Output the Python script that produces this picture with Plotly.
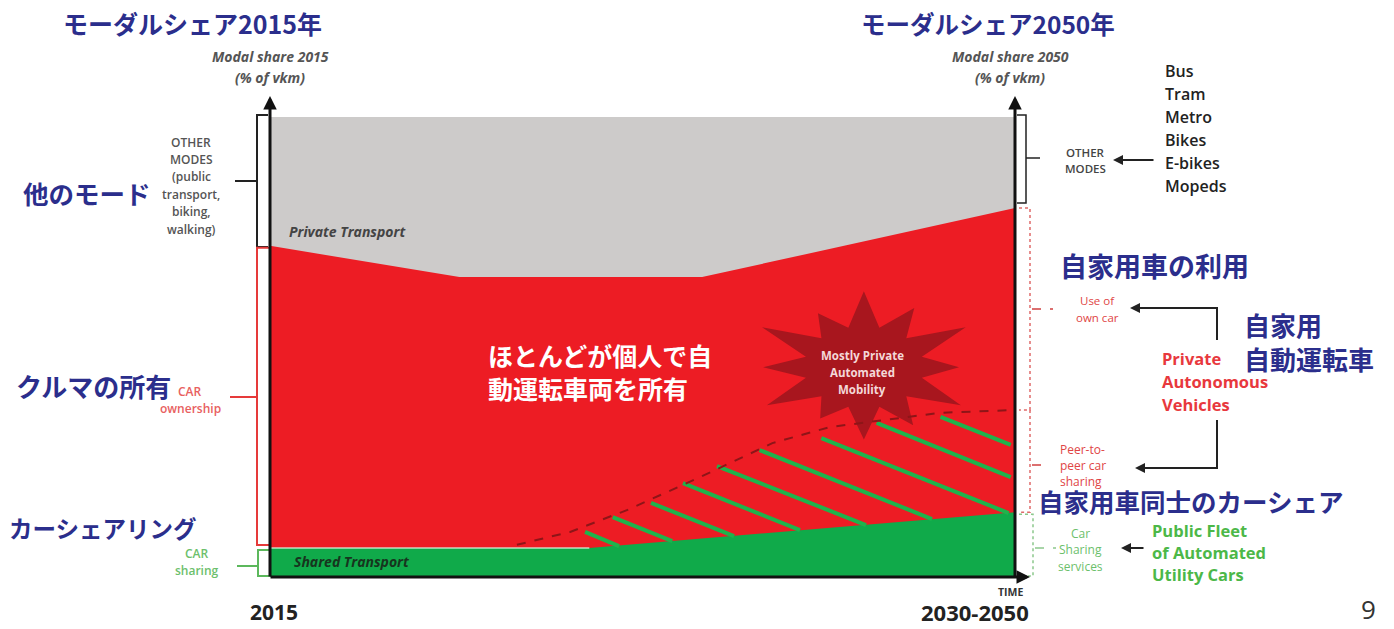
import math
import plotly.graph_objects as go

# ---------------- data (time in years, share in % of vkm) ----------------
years_bounds = [2015, 2050]
other_top = [100, 100]

years_private = [2015, 2023.9, 2035.3, 2050]
private_top = [72.0, 65.2, 65.2, 80.2]

years_shared = [2015, 2030.0, 2050]
shared_top = [6.3, 6.3, 14.1]

years_p2p = [2026.6, 2029.1, 2031.8, 2035.2, 2038.6, 2041.3, 2046.5, 2050]
p2p_top = [7.0, 9.8, 14.6, 21.7, 29.1, 32.6, 35.7, 36.3]

hatch_x0 = [2029.8, 2031.1, 2032.9, 2034.4, 2036.0, 2038.0, 2040.9, 2043.5, 2046.5]
hatch_y0 = [9.8, 13.0, 16.1, 20.4, 24.1, 27.6, 30.2, 33.5, 34.8]
hatch_x1 = [2031.4, 2033.9, 2036.8, 2039.9, 2043.0, 2046.1, 2049.7, 2049.8, 2049.8]
hatch_y1 = [6.7, 7.8, 8.9, 10.2, 11.3, 12.6, 13.9, 21.7, 28.7]

star_center = (2042.9, 45.6)
star_radius_mult = [1.0, 0.82, 1.05, 0.9, 1.0, 0.78, 0.95, 0.88, 1.0, 0.85, 1.05, 0.9]

other_modes_list = ["Bus", "Tram", "Metro", "Bikes", "E-bikes", "Mopeds"]

# ---------------- pixel <-> data helpers (layout only) ----------------
W, H = 1394, 629
PXL, PXR = 270, 1015      # x pixels of 2015 and 2050
PY0, PY100 = 577, 117     # y pixels of 0 % and 100 %


def xd(px):
    return years_bounds[0] + (px - PXL) * (years_bounds[1] - years_bounds[0]) / (PXR - PXL)


def yd(py):
    return (PY0 - py) * 100.0 / (PY0 - PY100)


def xp(x):
    return PXL + (x - years_bounds[0]) * (PXR - PXL) / (years_bounds[1] - years_bounds[0])


def yp(y):
    return PY0 - y * (PY0 - PY100) / 100.0


GRAY = "#cdcbca"
RED = "#ed1c24"
GREEN = "#10aa4a"
NAVY = "#2b2e8c"
STAR = "#a8161e"
JP = "Noto Sans CJK JP"
LAT = "Open Sans"

fig = go.Figure()

# other modes (gray)
fig.add_trace(go.Scatter(
    x=years_bounds + years_bounds[::-1], y=[0, 0] + other_top[::-1],
    fill="toself", fillcolor=GRAY, line=dict(width=0), mode="lines", hoverinfo="skip"))
# private transport (red)
fig.add_trace(go.Scatter(
    x=years_private + [years_bounds[1], years_bounds[0]], y=private_top + [0, 0],
    fill="toself", fillcolor=RED, line=dict(width=0), mode="lines", hoverinfo="skip"))
# shared transport (green)
fig.add_trace(go.Scatter(
    x=years_shared + [years_bounds[1], years_bounds[0]], y=shared_top + [0, 0],
    fill="toself", fillcolor=GREEN, line=dict(width=0), mode="lines", hoverinfo="skip"))
# pale edge on top of shared band
fig.add_trace(go.Scatter(
    x=years_shared[:2], y=shared_top[:2], mode="lines",
    line=dict(color="rgba(210,240,215,0.85)", width=1.5), hoverinfo="skip"))

# starburst
cx, cy = xp(star_center[0]), yp(star_center[1])
n = len(star_radius_mult)
sx, sy = [], []
for i in range(2 * n + 1):
    k = i % (2 * n)
    ang = math.pi / 2 + k * math.pi / n
    if k % 2 == 0:
        m = star_radius_mult[k // 2]
        rx, ry = 112 * m, 76 * m
    else:
        rx, ry = 60, 41
    sx.append(xd(cx + rx * math.cos(ang)))
    sy.append(yd(cy - ry * math.sin(ang)))
fig.add_trace(go.Scatter(x=sx, y=sy, fill="toself", fillcolor=STAR,
                         line=dict(width=0), mode="lines", hoverinfo="skip"))

# hatching
hx, hy = [], []
for a, b, c, d in zip(hatch_x0, hatch_y0, hatch_x1, hatch_y1):
    hx += [a, c, None]
    hy += [b, d, None]
fig.add_trace(go.Scatter(x=hx, y=hy, mode="lines",
                         line=dict(color="#1fb34c", width=4), hoverinfo="skip"))

# peer-to-peer boundary (dashed)
fig.add_trace(go.Scatter(x=years_p2p, y=p2p_top, mode="lines",
                         line=dict(color="#8e1518", width=2, dash="dash"), hoverinfo="skip"))

shapes = []


def seg(p, color, width=2, dash="solid"):
    path = "M " + " L ".join(f"{xd(a)},{yd(b)}" for a, b in p)
    shapes.append(dict(type="path", path=path, xref="x", yref="y",
                       line=dict(color=color, width=width, dash=dash), layer="above"))


# left brackets
seg([(268, 115), (257, 115), (257, 247), (268, 247)], "#222", 2)
seg([(257, 181), (235, 181)], "#222", 2)
top_r = yp(private_top[0]) + 2
bot_r = yp(shared_top[0]) - 3
seg([(270, top_r), (257, top_r), (257, bot_r), (270, bot_r)], "#e63a3a", 2)
seg([(257, 397), (230, 397)], "#e63a3a", 2)
seg([(270, 550), (258, 550), (258, 576), (270, 576)], "#5cb85c", 2)
seg([(258, 566), (237, 566)], "#5cb85c", 2)

# right other-modes bracket
seg([(1017, 115), (1026, 115), (1026, 203), (1017, 203)], "#222", 1.5)
seg([(1026, 158), (1040, 158)], "#222", 1.5)

# right dotted brackets
py_a = yp(private_top[-1])
py_b = yp(p2p_top[-1])
py_c = yp(shared_top[-1])
seg([(1019, py_a), (1030, py_a), (1030, py_b), (1019, py_b)], "#e06a6a", 1.5, "dot")
seg([(1032, (py_a + py_b) / 2), (1053, (py_a + py_b) / 2)], "#d04040", 1.5, "dash")
seg([(1030, py_b), (1030, py_c), (1019, py_c)], "#e06a6a", 1.5, "dot")
seg([(1032, 465), (1050, 465)], "#d04040", 1.5, "dash")
seg([(1019, py_c + 2), (1033, py_c + 2), (1033, 576), (1019, 576)], "#8cc88c", 1.5, "dot")
seg([(1035, 548), (1056, 548)], "#8cc88c", 1.5, "dash")

# black connector lines on the right
seg([(1217, 340), (1217, 308), (1140, 308)], "#222", 2)
seg([(1217, 420), (1217, 468), (1145, 468)], "#222", 2)

annotations = []


def arrow(px_tip, py_tip, px_tail, py_tail, color="#111", width=3, size=0.9):
    annotations.append(dict(x=xd(px_tip), y=yd(py_tip), ax=xd(px_tail), ay=yd(py_tail),
                            xref="x", yref="y", axref="x", ayref="y", showarrow=True,
                            arrowhead=2, arrowsize=size, arrowwidth=width, arrowcolor=color,
                            standoff=0, text=""))


# axes
arrow(PXL, 96, PXL, PY0 + 1)
arrow(PXR, 96, PXR, PY0 + 1)
arrow(1030, PY0, PXL - 1, PY0)
# small arrows
arrow(1113, 160, 1155, 160, "#222", 2, 1)
arrow(1130, 308, 1150, 308, "#222", 2, 1)
arrow(1135, 468, 1155, 468, "#222", 2, 1)
arrow(1121, 548, 1145, 548, "#222", 2, 1)


def txt(s, px, py, size, color, family=LAT, weight="normal", style="normal", anchor="center"):
    annotations.append(dict(text=s, x=xd(px), y=yd(py), xref="x", yref="y",
                            showarrow=False, xanchor=anchor, yanchor="middle",
                            align=anchor if anchor != "center" else "center",
                            font=dict(size=size, color=color, family=family,
                                      weight=weight, style=style)))


def lines(ls, px, py0, step, size, color, **kw):
    for i, s in enumerate(ls):
        txt(s, px, py0 + i * step, size, color, **kw)


# Japanese headings / labels
txt("モーダルシェア2015年", 192, 23, 25, NAVY, JP, "bold")
txt("モーダルシェア2050年", 988, 23, 24.5, NAVY, JP, "bold")
txt("他のモード", 21, 192, 25.5, NAVY, JP, "bold", anchor="left")
txt("クルマの所有", 14, 385, 26, NAVY, JP, "bold", anchor="left")
txt("カーシェアリング", 7, 528, 23.5, NAVY, JP, "bold", anchor="left")
txt("自家用車の利用", 1058, 265, 27, NAVY, JP, "bold", anchor="left")
txt("自家用<br>自動運転車", 1242, 341, 26, NAVY, JP, "bold", anchor="left")
lines(["ほとんどが個人で自", "動運転車両を所有"], 486, 355, 33, 25, "white",
      family=JP, weight="bold", anchor="left")

# axis titles
lines(["Modal share 2015", "(% of vkm)"], 270, 56, 21, 14, "#555", weight="bold", style="italic")
lines(["Modal share 2050", "(% of vkm)"], 1010, 56, 21, 14, "#555", weight="bold", style="italic")

# left labels
lines(["OTHER", "MODES", "(public", "transport,", "biking,", "walking)"], 191, 142, 17.4, 12, "#555",
      weight=600)
lines(["CAR", "ownership"], 190, 391, 17, 12, "#e86060", weight=600)
lines(["CAR", "sharing"], 197, 553, 17, 12, "#6cc06c", weight=600)

# right labels
lines(other_modes_list, 1163, 71, 23, 16, "#222", weight=600, anchor="left")
lines(["OTHER", "MODES"], 1085, 152, 16, 11.5, "#444", weight=600)
lines(["Use of", "own car"], 1097, 300, 17, 11.5, "#e04545")
lines(["Peer-to-", "peer car", "sharing"], 1058, 449, 16, 12, "#e04545", anchor="left")
lines(["Private", "Autonomous", "Vehicles"], 1160, 358, 23, 16.5, "#e8383d", weight="bold", anchor="left")
lines(["Car", "Sharing", "services"], 1080, 533, 16.5, 12, "#6cbf6c")
lines(["Public Fleet", "of Automated", "Utility Cars"], 1150, 530, 22, 16.5, "#4cb848", weight="bold",
      anchor="left")
txt("自家用車同士のカーシェア", 1036, 500, 25.5, NAVY, JP, "bold", anchor="left")

# in-chart labels
txt("Private Transport", 287, 231, 14, "#444", weight="bold", style="italic", anchor="left")
txt("Shared Transport", 292, 561, 14, "#17351e", weight="bold", style="italic", anchor="left")
lines(["Mostly Private", "Automated", "Mobility"], 862, 355, 17, 11.5, "#f4d8d8", weight="bold")

# time labels
txt("TIME", 1010, 592, 10.5, "#333", weight="bold")
txt("2015", 274, 612, 21, "#222", weight="bold")
txt("2030-2050", 975, 612, 22, "#222", weight="bold")
txt("9", 1368, 609, 26, "#333")

fig.update_layout(
    width=W, height=H, autosize=False,
    margin=dict(l=0, r=0, t=0, b=0, pad=0),
    paper_bgcolor="white", plot_bgcolor="white",
    showlegend=False,
    xaxis=dict(range=[xd(0), xd(W)], visible=False, fixedrange=True),
    yaxis=dict(range=[yd(H), yd(0)], visible=False, fixedrange=True),
    shapes=shapes, annotations=annotations,
)

fig.write_html("out.html")
